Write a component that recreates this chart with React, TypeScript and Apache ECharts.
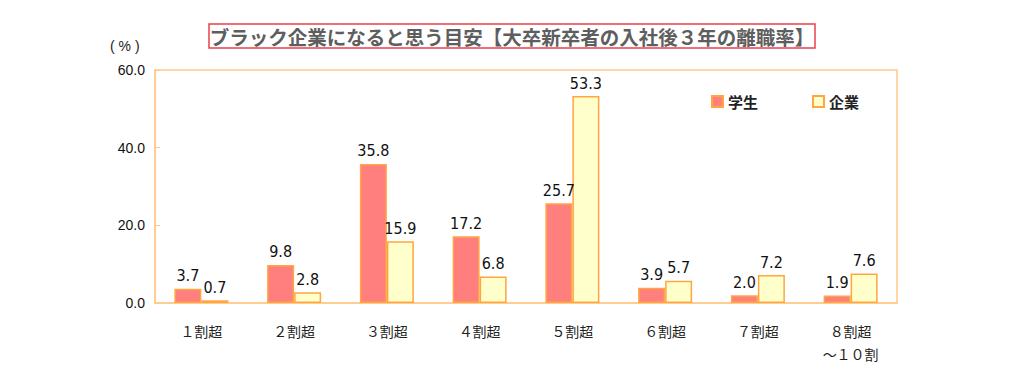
import React, { useEffect, useRef } from "react";
import * as echarts from "echarts";

const categories = ["１割超", "２割超", "３割超", "４割超", "５割超", "６割超", "７割超", "８割超\n～１０割"];
const studentValues = [3.7, 9.8, 35.8, 17.2, 25.7, 3.9, 2.0, 1.9];
const companyValues = [0.7, 2.8, 15.9, 6.8, 53.3, 5.7, 7.2, 7.6];
const seriesNames = ["学生", "企業"];
const titleText = "ブラック企業になると思う目安【大卒新卒者の入社後３年の離職率】";
const unitText = "( % )";

const FONT = "'Liberation Sans', 'Noto Sans CJK JP', sans-serif";
const NARROW = "'Liberation Sans Narrow', 'DejaVu Sans Condensed', 'Liberation Sans', sans-serif";
const JP = "'Noto Sans CJK JP', sans-serif";
const AXIS_COLOR = "#FFC98A";
const BAR_BORDER = "#FFA640";

export default function App() {
  const ref = useRef<HTMLDivElement>(null);
  useEffect(() => {
    if (!ref.current) return;
    const chart = echarts.init(ref.current, null, { renderer: "svg" });
    const label = {
      show: true,
      position: "top",
      distance: 5,
      color: "#111",
      fontSize: 16,
      fontFamily: NARROW,
      formatter: (p: any) => Number(p.value).toFixed(1),
    };
    chart.setOption({
      animation: false,
      backgroundColor: "#fff",
      textStyle: { fontFamily: FONT },
      title: {
        text: titleText,
        left: "center",
        top: 24,
        padding: [3, 1, 2, 1],
        borderColor: "#E8414B",
        borderWidth: 1.5,
        textStyle: { fontSize: 19.5, fontWeight: "bold", color: "#5e5e5e", fontFamily: JP },
      },
      graphic: [
        {
          type: "text",
          left: 110,
          top: 39,
          style: { text: unitText, fill: "#222", fontSize: 14, fontFamily: FONT },
        },
      ],
      legend: {
        left: 706,
        top: 89,
        itemWidth: 11,
        itemHeight: 11,
        itemGap: 54,
        icon: "rect",
        textStyle: { fontSize: 15, color: "#222", fontWeight: "bold", fontFamily: JP },
        data: seriesNames,
      },
      grid: {
        left: 155,
        right: 127,
        top: 70,
        bottom: 79,
        show: true,
        borderColor: AXIS_COLOR,
        borderWidth: 1.5,
      },
      xAxis: {
        type: "category",
        data: categories,
        axisLine: { lineStyle: { color: AXIS_COLOR, width: 1.5 } },
        axisTick: { inside: true, length: 6, lineStyle: { color: AXIS_COLOR } },
        axisLabel: { color: "#222", fontSize: 14, margin: 16, lineHeight: 23, fontFamily: JP },
      },
      yAxis: {
        type: "value",
        min: 0,
        max: 60,
        interval: 20,
        axisLine: { show: true, lineStyle: { color: AXIS_COLOR, width: 1.5 } },
        axisTick: { show: true, inside: true, length: 5, lineStyle: { color: AXIS_COLOR } },
        splitLine: { show: false },
        axisLabel: { color: "#111", fontSize: 14, margin: 10, formatter: (v: number) => v.toFixed(1), fontFamily: FONT },
      },
      series: [
        {
          name: seriesNames[0],
          type: "bar",
          data: studentValues,
          barWidth: 27,
          barGap: "0%",
          itemStyle: { color: "#FF7F7F", borderColor: BAR_BORDER, borderWidth: 1.5 },
          label,
        },
        {
          name: seriesNames[1],
          type: "bar",
          data: companyValues,
          barWidth: 27,
          itemStyle: { color: "#FFFFCC", borderColor: BAR_BORDER, borderWidth: 1.5 },
          label,
        },
      ],
    });
    return () => chart.dispose();
  }, []);
  return <div ref={ref} style={{ position: "fixed", left: 0, top: 0, width: 1024, height: 382 }} />;
}
